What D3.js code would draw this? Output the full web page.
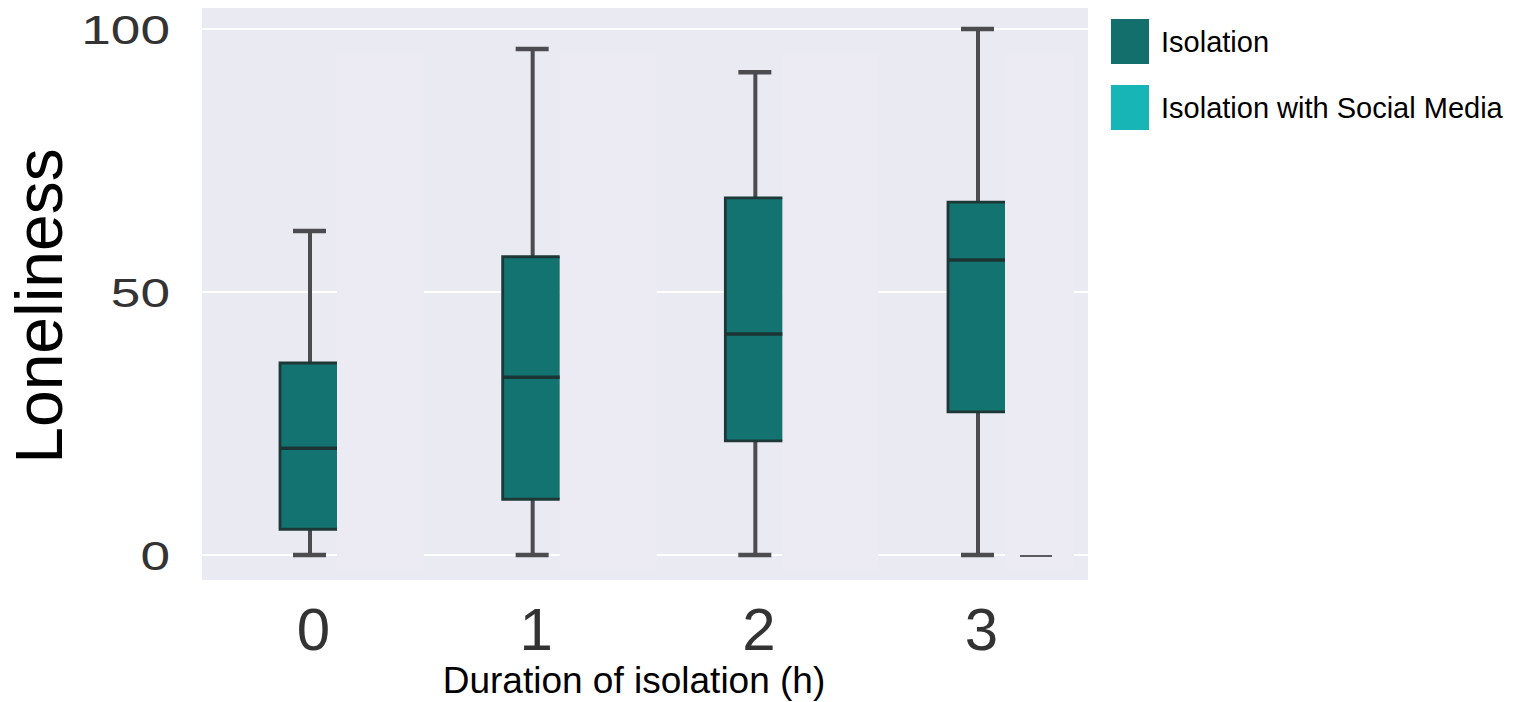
<!doctype html>
<html lang="en">
<head>
<meta charset="UTF-8">
<title>Loneliness by duration of isolation</title>
<script src="https://cdn.jsdelivr.net/npm/d3@7"></script>
<style>
  body { margin: 0; background: #fff; }
  svg { display: block; font-family: "Liberation Sans", Arial, Helvetica, sans-serif; }
</style>
</head>
<body>
<svg width="1518" height="702"></svg>
<script>
// categories (hours of isolation)
var durations = ['0', '1', '2', '3'];
// Isolation: [low whisker, Q1, median, Q3, high whisker]
var isolation = [
  [0, 4.9, 20.3, 36.5, 61.6],
  [0, 10.6, 33.8, 56.7, 96.2],
  [0, 21.7, 42.0, 67.9, 91.8],
  [0, 27.2, 56.1, 67.1, 100]
];
// Isolation with Social Media (only the collapsed one at 3h is visible)
var socialMedia = [null, null, null, [0, 0, 0, 0, 0]];
var yTicks = [0, 50, 100];
var seriesNames = ['Isolation', 'Isolation with Social Media'];
var seriesColors = ['#137370', '#17b5b5'];

var svg = d3.select('svg');

var x = d3.scalePoint().domain(durations).range([310, 978]);
var y = d3.scaleLinear().domain([0, 100]).range([555, 29]);

// plot background
svg.append('rect')
  .attr('x', 202).attr('y', 8)
  .attr('width', 886).attr('height', 572)
  .attr('fill', '#eaeaf2');

// grid
svg.append('g').selectAll('line')
  .data(yTicks)
  .join('line')
  .attr('x1', 202).attr('x2', 1088)
  .attr('y1', d => y(d)).attr('y2', d => y(d))
  .attr('stroke', '#fff')
  .attr('stroke-width', 2);

// patches where the second series boxes were removed
var patchW = [87, 97, 96, 69];
svg.append('g').selectAll('rect')
  .data(durations)
  .join('rect')
  .attr('x', d => x(d) + 27)
  .attr('y', y(95))
  .attr('width', (d, i) => patchW[i])
  .attr('height', y(0) + 14 - y(95))
  .attr('fill', '#ecebf3');

// whiskers
var boxes = svg.append('g').selectAll('g')
  .data(isolation)
  .join('g')
  .attr('transform', (d, i) => 'translate(' + x(durations[i]) + ',0)');

boxes.append('line')
  .attr('x1', 0).attr('x2', 0)
  .attr('y1', d => y(d[4])).attr('y2', d => y(d[0]))
  .attr('stroke', '#4b4b50').attr('stroke-width', 4);

boxes.selectAll('line.cap')
  .data(d => [d[0], d[4]])
  .join('line')
  .attr('class', 'cap')
  .attr('x1', -17).attr('x2', 16)
  .attr('y1', d => y(d)).attr('y2', d => y(d))
  .attr('stroke', '#4b4b50').attr('stroke-width', 4.5);

// box body, cut on its right side
boxes.append('rect')
  .attr('x', -30).attr('width', 57)
  .attr('y', d => y(d[3]))
  .attr('height', d => y(d[1]) - y(d[3]))
  .attr('fill', seriesColors[0]);

boxes.append('path')
  .attr('d', d => 'M27,' + y(d[3]) + 'H-30V' + y(d[1]) + 'H27')
  .attr('fill', 'none')
  .attr('stroke', '#1e3837').attr('stroke-width', 2.8);

boxes.append('line')
  .attr('x1', -30).attr('x2', 27)
  .attr('y1', d => y(d[2])).attr('y2', d => y(d[2]))
  .attr('stroke', '#1c3534').attr('stroke-width', 3.5);

// collapsed second-series box
svg.append('g').selectAll('line')
  .data(socialMedia.map((d, i) => ({ d: d, c: durations[i] })).filter(o => o.d))
  .join('line')
  .attr('x1', o => x(o.c) + 42).attr('x2', o => x(o.c) + 74)
  .attr('y1', o => y(o.d[2]) + 1).attr('y2', o => y(o.d[2]) + 1)
  .attr('stroke', '#5a5a60').attr('stroke-width', 2);

// y axis
var yAxis = svg.append('g')
  .attr('transform', 'translate(170,0)')
  .call(d3.axisLeft(y).tickValues(yTicks).tickSize(0).tickPadding(0));
yAxis.select('.domain').remove();
yAxis.selectAll('text')
  .attr('x', 0)
  .attr('dy', '0.36em')
  .attr('transform', 'scale(1.33,1)')
  .attr('fill', '#333')
  .style('font-size', '40px')
  .style('font-family', '"Liberation Sans", Arial, sans-serif');

// x axis
var xAxis = svg.append('g')
  .attr('transform', 'translate(3,650)')
  .call(d3.axisBottom(x).tickSize(0));
xAxis.select('.domain').remove();
xAxis.selectAll('text')
  .attr('y', 0).attr('dy', 0)
  .attr('fill', '#333')
  .style('font-size', '60px')
  .style('font-family', '"Liberation Sans", Arial, sans-serif');

// axis titles
svg.append('text')
  .attr('transform', 'translate(62,306) rotate(-90)')
  .attr('text-anchor', 'middle')
  .style('font-size', '66px')
  .text('Loneliness');

svg.append('text')
  .attr('x', 634).attr('y', 693)
  .attr('text-anchor', 'middle')
  .style('font-size', '37px')
  .text('Duration of isolation (h)');

// legend
var legend = svg.append('g').selectAll('g')
  .data(seriesNames)
  .join('g')
  .attr('transform', (d, i) => 'translate(1111,' + (19 + i * 66) + ')');
legend.append('rect')
  .attr('width', 38).attr('height', 45)
  .attr('fill', (d, i) => i === 0 ? '#136f6b' : seriesColors[1]);
legend.append('text')
  .attr('x', 50).attr('y', 33)
  .style('font-size', '29px')
  .text(d => d);
</script>
</body>
</html>
